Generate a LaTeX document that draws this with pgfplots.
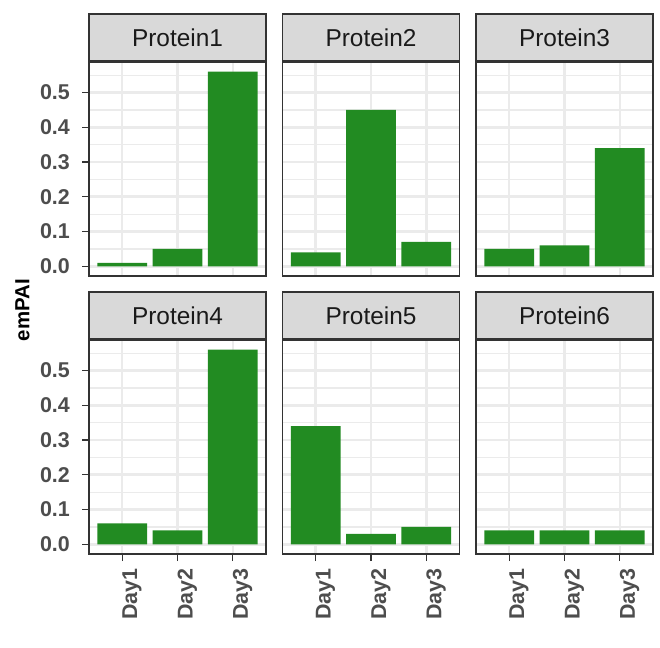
\documentclass[border=0pt]{standalone}
\usepackage{fontspec}
\setmainfont{Liberation Sans}
\usepackage{pgfplots}
\pgfplotsset{compat=1.18}
\definecolor{grey10}{HTML}{1A1A1A}
\definecolor{grey20}{HTML}{333333}
\definecolor{grey30}{HTML}{4D4D4D}
\definecolor{grey85}{HTML}{D9D9D9}
\definecolor{grey92}{HTML}{EBEBEB}
\definecolor{forestgreen}{HTML}{228B22}
\pgfplotsset{
  panel/.style={
    scale only axis, width=177bp, height=214bp, anchor=south west,
    xmin=0.4, xmax=3.6, ymin=-0.028, ymax=0.588,
    xtick={1,2,3}, ytick={0,0.1,0.2,0.3,0.4,0.5},
    minor ytick={0.05,0.15,0.25,0.35,0.45,0.55},
    grid=both,
    major grid style={draw=grey92, line width=2.6bp},
    minor grid style={draw=grey92, line width=1.3bp},
    axis line style={draw=grey20, line width=1.6bp},
    tick align=outside, major tick length=7bp, minor tick length=0pt,
    every tick/.style={draw=grey20, line width=1.3bp},
    xtick pos=bottom, ytick pos=left,
    /pgf/number format/assume math mode=true,
    tick label style={font=\bfseries\fontsize{21.5}{22}\selectfont, text=grey30},
    yticklabel style={/pgf/number format/.cd, fixed, fixed zerofill, precision=1,
      /tikz/.cd, anchor=east, inner sep=0pt, xshift=-12bp},
    every axis title shift=0pt,
    title style={at={(0.5,1)}, anchor=south, yshift=0pt, fill=grey85, draw=grey20,
      line width=1.6bp, minimum width=177bp, minimum height=47bp, inner sep=0pt,
      font=\fontsize{24.5}{25}\selectfont, text=grey10},
    ybar, bar width=0.9,
  },
  noy/.style={yticklabels={}, ytick style={draw=none}},
  nox/.style={xticklabels={}, xtick style={draw=none}},
  botx/.style={xticklabels={Day1,Day2,Day3},
    xticklabel style={rotate=90, anchor=north east, inner sep=0pt, xshift=-7.5bp, yshift=0bp}},
  bars/.style={fill=forestgreen, draw=none, bar shift=0pt},
}
\begin{document}
\begin{tikzpicture}
\useasboundingbox (0,0) rectangle (660bp,648bp);
% Row 1
\begin{axis}[panel, nox, at={(89bp,372bp)}, title={Protein1}]
\addplot[bars] coordinates {(1,0.01) (2,0.05) (3,0.56)};
\end{axis}
\begin{axis}[panel, nox, noy, at={(282.5bp,372bp)}, title={Protein2}]
\addplot[bars] coordinates {(1,0.04) (2,0.45) (3,0.07)};
\end{axis}
\begin{axis}[panel, nox, noy, at={(476bp,372bp)}, title={Protein3}]
\addplot[bars] coordinates {(1,0.05) (2,0.06) (3,0.34)};
\end{axis}
% Row 2
\begin{axis}[panel, botx, at={(89bp,94bp)}, title={Protein4}]
\addplot[bars] coordinates {(1,0.06) (2,0.04) (3,0.56)};
\end{axis}
\begin{axis}[panel, botx, noy, at={(282.5bp,94bp)}, title={Protein5}]
\addplot[bars] coordinates {(1,0.34) (2,0.03) (3,0.05)};
\end{axis}
\begin{axis}[panel, botx, noy, at={(476bp,94bp)}, title={Protein6}]
\addplot[bars] coordinates {(1,0.04) (2,0.04) (3,0.04)};
\end{axis}
\node[rotate=90, inner sep=0pt, font=\bfseries\fontsize{20.5}{21}\selectfont, text=black] at (22.5bp,338bp) {emPAI};
\end{tikzpicture}
\end{document}
